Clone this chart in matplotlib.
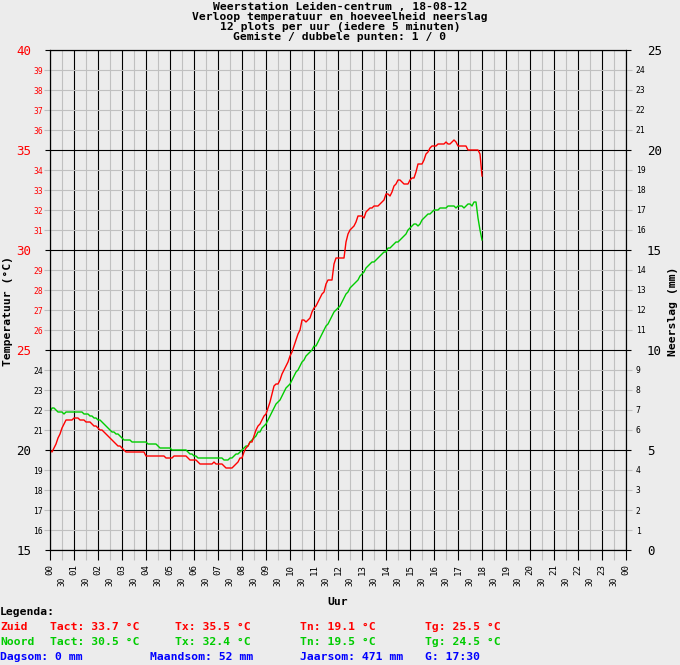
import numpy as np
import matplotlib
matplotlib.use("Agg")
import matplotlib.pyplot as plt

# ---------------- data (5-minute samples from 00:00 to 18:00) ----------------
zuid = [
    20.0, 19.9, 20.1, 20.3, 20.6, 20.8, 21.1, 21.3, 21.5, 21.5,
    21.5, 21.5, 21.6, 21.6, 21.6, 21.5, 21.5, 21.5, 21.4, 21.4,
    21.4, 21.3, 21.2, 21.2, 21.1, 21.0, 21.0, 20.9, 20.8, 20.7,
    20.6, 20.5, 20.4, 20.3, 20.2, 20.2, 20.1, 20.0, 19.9, 19.9,
    19.9, 19.9, 19.9, 19.9, 19.9, 19.9, 19.9, 19.9, 19.7,
    19.7, 19.7, 19.7, 19.7, 19.7, 19.7, 19.7, 19.7, 19.7, 19.6,
    19.6, 19.6, 19.6, 19.7, 19.7, 19.7, 19.7, 19.7, 19.7, 19.7,
    19.6, 19.5, 19.5, 19.5, 19.5, 19.4, 19.3, 19.3, 19.3, 19.3,
    19.3, 19.3, 19.3, 19.4, 19.3, 19.3, 19.3, 19.3, 19.2, 19.1,
    19.1, 19.1, 19.1, 19.2, 19.3, 19.4, 19.6,
    19.6, 19.9, 20.1, 20.2, 20.4, 20.4, 20.7, 21.0, 21.2, 21.3,
    21.5, 21.7, 21.8, 22.1, 22.4, 22.8, 23.2, 23.3, 23.3, 23.5,
    23.8, 24.0, 24.2, 24.4, 24.7, 24.9, 25.2, 25.5, 25.8, 26.0,
    26.5, 26.5, 26.4, 26.5, 26.6, 26.9, 27.1, 27.2, 27.4, 27.6,
    27.8, 27.9, 28.3, 28.5, 28.5, 28.5, 29.3, 29.6, 29.6, 29.6,
    29.6, 29.6,
    30.4, 30.8, 31.0, 31.1, 31.2, 31.4, 31.7, 31.7, 31.7, 31.6,
    31.9, 32.0, 32.1, 32.1, 32.2, 32.2, 32.2, 32.3, 32.4, 32.5,
    32.8, 32.8, 32.7, 32.9, 33.2, 33.3, 33.5, 33.5, 33.4, 33.3,
    33.3, 33.3, 33.5, 33.6, 33.6, 33.9, 34.3, 34.3, 34.3, 34.5,
    34.8, 34.9, 35.1, 35.2, 35.2, 35.2, 35.3, 35.3, 35.3, 35.3,
    35.4, 35.3, 35.3, 35.4, 35.5, 35.4, 35.2, 35.2, 35.2, 35.2,
    35.2, 35.0, 35.0, 35.0, 35.0, 35.0, 35.0, 34.8, 33.7,
]

noord = [
    21.9, 22.1, 22.1, 22.0, 21.9, 21.9, 21.9, 21.8, 21.9, 21.9,
    21.9, 21.9, 21.9, 21.9, 21.9, 21.9, 21.9, 21.8, 21.8, 21.8,
    21.7, 21.7, 21.6, 21.6, 21.5, 21.5, 21.4, 21.3, 21.2, 21.1,
    21.0, 20.9, 20.9, 20.8, 20.8, 20.7, 20.6, 20.5, 20.5, 20.5,
    20.5, 20.4, 20.4, 20.4, 20.4, 20.4, 20.4, 20.4, 20.4,
    20.3, 20.3, 20.3, 20.3, 20.3, 20.2, 20.1, 20.1, 20.1, 20.1,
    20.1, 20.1, 20.0, 20.0, 20.0, 20.0, 20.0, 20.0, 20.0, 20.0,
    19.9, 19.8, 19.8, 19.7, 19.7, 19.6, 19.6, 19.6, 19.6, 19.6,
    19.6, 19.6, 19.6, 19.6, 19.6, 19.6, 19.6, 19.6, 19.5, 19.5,
    19.5, 19.6, 19.6, 19.7, 19.8, 19.8, 19.9,
    20.0, 20.1, 20.2, 20.2, 20.4, 20.5, 20.6, 20.7, 20.9, 20.9,
    21.1, 21.2, 21.3, 21.5, 21.7, 21.9, 22.1, 22.3, 22.4, 22.5,
    22.7, 22.9, 23.1, 23.2, 23.3, 23.5, 23.7, 23.9, 24.0, 24.2,
    24.4, 24.5, 24.7, 24.8, 24.9, 25.0, 25.2, 25.2, 25.4, 25.6,
    25.8, 26.0, 26.2, 26.3, 26.5, 26.7, 26.9, 27.0, 27.1, 27.2,
    27.4, 27.6, 27.8, 27.9, 28.1, 28.2, 28.3, 28.4, 28.5, 28.7,
    28.8, 28.9, 29.1, 29.2, 29.3, 29.4, 29.4, 29.5, 29.6, 29.7,
    29.8, 29.9, 29.9, 30.1, 30.1, 30.2, 30.3, 30.4, 30.4,
    30.5, 30.6, 30.7, 30.8, 31.0, 31.1, 31.2, 31.3, 31.3, 31.2,
    31.3, 31.5, 31.6, 31.7, 31.8, 31.8, 31.9, 32.0, 32.0, 32.0,
    32.1, 32.1, 32.1, 32.1, 32.2, 32.2, 32.2, 32.2, 32.1, 32.2,
    32.2, 32.2, 32.1, 32.2, 32.3, 32.3, 32.2, 32.4, 32.4, 31.6,
    31.0, 30.5,
]

hour_labels = ["%02d" % h for h in range(24)] + ["00"]
half_labels = ["30"] * 24
temp_major = [15, 20, 25, 30, 35, 40]
temp_minor = [t for t in range(15, 41) if t % 5]
rain_major = [0, 5, 10, 15, 20, 25]
rain_minor = [r for r in range(0, 26) if r % 5]

titles = [
    "Weerstation Leiden-centrum , 18-08-12",
    "Verloop temperatuur en hoeveelheid neerslag",
    "12 plots per uur (iedere 5 minuten)",
    "Gemiste / dubbele punten: 1 / 0",
]
legend_rows = [
    ("Zuid", ["Tact: 33.7 \u00b0C", "Tx: 35.5 \u00b0C", "Tn: 19.1 \u00b0C", "Tg: 25.5 \u00b0C"]),
    ("Noord", ["Tact: 30.5 \u00b0C", "Tx: 32.4 \u00b0C", "Tn: 19.5 \u00b0C", "Tg: 24.5 \u00b0C"]),
]
totals = ["Dagsom: 0 mm", "Maandsom: 52 mm", "Jaarsom: 471 mm", "G: 17:30"]

# ---------------- style ----------------
BG = "#ececec"
RED = "#ff0000"
GREEN = "#00cc00"
BLUE = "#0000ff"
GRAY = "#c0c0c0"
MONO = "DejaVu Sans Mono"
LW = 0.8

W, H = 680, 665
fig = plt.figure(figsize=(W / 100, H / 100), dpi=100, facecolor=BG)

def px(x, y):
    return x / W, 1 - y / H

L, R, T, B = 50, 626, 50, 550
ax = fig.add_axes([L / W, 1 - B / H, (R - L) / W, (B - T) / H])
ax.set_facecolor(BG)
ax.set_xlim(0, 24)
ax.set_ylim(15, 40)
ax.set_axisbelow(True)

t = np.arange(len(zuid)) * 5 / 60.0
t2 = np.arange(len(noord)) * 5 / 60.0
ax.plot(t, zuid, color=RED, lw=1.0, zorder=5)
ax.plot(t2, noord, color=GREEN, lw=1.0, zorder=4)

# x ticks: hours (major, labelled) and half hours (minor, tick only)
ax.set_xticks(range(25))
ax.set_xticklabels(hour_labels)
ax.set_xticks([h + 0.5 for h in range(24)], minor=True)
ax.tick_params(axis="x", which="major", length=7.5, width=LW, color="black",
               pad=2.8, labelsize=6.6, labelrotation=90)
ax.tick_params(axis="x", which="minor", length=7.5, width=LW, color=GRAY,
               labelbottom=False)

# "30" labels for the half hours on a secondary bottom axis, lower down
sec = ax.secondary_xaxis("bottom")
sec.set_xticks([h + 0.5 for h in range(24)])
sec.set_xticklabels(half_labels)
sec.tick_params(axis="x", which="major", length=0, pad=19.3, labelsize=5.5,
                labelrotation=90)
sec.tick_params(axis="x", which="minor", length=0)
for s in sec.spines.values():
    s.set_visible(False)
for lab in sec.get_xticklabels():
    lab.set_fontfamily(MONO)

# left y ticks
ax.set_yticks(temp_major)
ax.set_yticklabels([str(v) for v in temp_major])
ax.set_yticks(temp_minor, minor=True)
ax.set_yticklabels([str(v) for v in temp_minor], minor=True)
ax.tick_params(axis="y", which="major", length=3.5, width=LW, color="black",
               pad=10, labelsize=9)
ax.tick_params(axis="y", which="minor", length=4, width=LW, color=GRAY,
               pad=1.2, labelsize=5.8)
for lab, v in zip(ax.get_yticklabels(), temp_major):
    lab.set_color(RED if v >= 25 else "black")
for lab, v in zip(ax.get_yticklabels(minor=True), temp_minor):
    lab.set_color(RED if v >= 25 else "black")
for lab in ax.get_xticklabels() + ax.get_yticklabels() + ax.get_yticklabels(minor=True):
    lab.set_fontfamily(MONO)

ax.grid(which="minor", color=GRAY, lw=LW)
ax.grid(which="major", color="black", lw=LW)
for s in ax.spines.values():
    s.set_color("black")
    s.set_linewidth(LW)

# right axis
ax2 = ax.twinx()
ax2.set_ylim(0, 25)
ax2.set_yticks(rain_major)
ax2.set_yticklabels([str(v) for v in rain_major])
ax2.set_yticks(rain_minor, minor=True)
ax2.set_yticklabels([str(v) for v in rain_minor], minor=True)
ax2.tick_params(axis="y", which="major", length=3.5, width=LW, color="black",
                pad=11.5, labelsize=9)
ax2.tick_params(axis="y", which="minor", length=4, width=LW, color=GRAY,
                pad=3, labelsize=5.8)
for lab in ax2.get_yticklabels() + ax2.get_yticklabels(minor=True):
    lab.set_fontfamily(MONO)
for s in ax2.spines.values():
    s.set_linewidth(LW)

# axis labels
lab_kw = dict(family=MONO, weight="bold", size=8.2)
ax.set_xlabel("Uur", **lab_kw)
ax.xaxis.set_label_coords(0.5, -(602 - B) / (B - T))
ax.xaxis.label.set_va("center")
ax.set_ylabel("Temperatuur (\u00b0C)", **lab_kw)
ax.yaxis.set_label_coords(-(L - 8) / (R - L), (B - 311) / (B - T))
ax.yaxis.label.set_va("center")
ax2.set_ylabel("Neerslag (mm)", rotation=90, **lab_kw)
ax2.yaxis.set_label_coords(1 + (673 - R) / (R - L), (B - 311) / (B - T))
ax2.yaxis.label.set_va("center")

# titles
for i, line in enumerate(titles):
    fig.text(*px(340, 7 + 10 * i), line, ha="center", va="center",
             family=MONO, weight="bold", size=8.2)

# legend text
txt_kw = dict(family=MONO, weight="bold", size=8.2, va="center", ha="left")
fig.text(*px(0, 612), "Legenda:", color="black", **txt_kw)
cols = [50, 175, 300, 425]
for (name, items), y, c in zip(legend_rows, [627, 642], [RED, GREEN]):
    fig.text(*px(0, y), name, color=c, **txt_kw)
    for x, s in zip(cols, items):
        fig.text(*px(x, y), s, color=c, **txt_kw)
for x, s in zip([0, 150, 300, 425], totals):
    fig.text(*px(x, 657), s, color=BLUE, **txt_kw)

fig.savefig("out.png", dpi=100, facecolor=BG)
